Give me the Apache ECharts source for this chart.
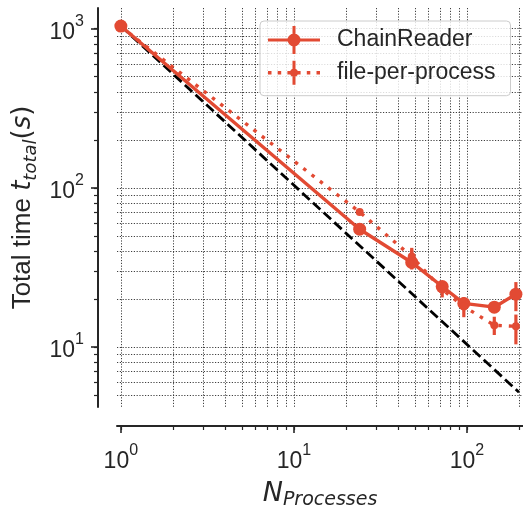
<!DOCTYPE html>
<html><head><meta charset="utf-8">
<script src="https://cdn.jsdelivr.net/npm/echarts@6/dist/echarts.min.js"></script>
<style>html,body{margin:0;padding:0;background:#fff}#c{width:523px;height:515px}</style>
</head><body><div id="c"></div>
<script>
// ---- data ----
const nProcesses = [1, 24, 48, 72, 96, 144, 192];
const chainReader = [1040, 55, 34, 24, 18.8, 17.8, 21.5];
const chainReaderLow = [1015, 53.5, 30.7, 23, 18, 17.2, 16.8];
const chainReaderHigh = [1065, 56.5, 41, 25, 19.6, 18.4, 25.6];
const filePerProcess = [1030, 70.5, 37, 23, 18, 13.7, 13.5];
const filePerProcessLow = [1005, 69, 32.5, 20.5, 15.4, 11.9, 10.4];
const filePerProcessHigh = [1055, 72, 42, 25.5, 20.6, 15.5, 16];
const idealN = [1, 200];
const idealTime = [1040, 5.2];
const xMajorTicks = [1, 10, 100];
const xMinorTicks = [2, 3, 4, 5, 6, 7, 8, 9, 20, 30, 40, 50, 60, 70, 80, 90, 200];
const yMajorTicks = [10, 100, 1000];
const yMinorTicks = [5, 6, 7, 8, 9, 20, 30, 40, 50, 60, 70, 80, 90, 200, 300, 400, 500, 600, 700, 800, 900];
const seriesNames = ['ChainReader', 'file-per-process'];

// ---- style ----
const RED = '#E24A33';
const INK = '#262626';
const SANS = "'Liberation Sans', Arial, sans-serif";
const MATH = "'DejaVu Sans', sans-serif";
const zip = (a, b) => a.map((v, i) => [v, b[i]]);
const zip3 = (a, b, c) => a.map((v, i) => [v, b[i], c[i]]);
const sortNum = a => a.slice().sort((p, q) => p - q);
const xAll = sortNum(xMajorTicks.concat(xMinorTicks));
const yAll = sortNum(yMajorTicks.concat(yMinorTicks));

const powFmt = v => '{b|10}{sup|' + Math.round(Math.log10(v)) + '}';
const powRich = {
  b: { fontSize: 23, fontFamily: SANS, color: INK, lineHeight: 30, verticalAlign: 'bottom' },
  sup: { fontSize: 16, fontFamily: SANS, color: INK, lineHeight: 4, verticalAlign: 'top' }
};
const gridLine = { show: true, lineStyle: { color: '#2a2a2a', width: 0.9, type: [1.2, 1.6] } };

const iconCR = 'path://M0 12.5H52V15.5H0Z M19.5 14A6.5 6.5 0 1 1 32.5 14A6.5 6.5 0 1 1 19.5 14Z M24.5 0H27.5V28H24.5Z';
const iconFPP = 'path://M0 12.25H3.5V15.75H0Z M9.7 12.25H13.2V15.75H9.7Z M19.4 12.25H22.9V15.75H19.4Z M29.1 12.25H32.6V15.75H29.1Z M38.8 12.25H42.3V15.75H38.8Z M48.5 12.25H52V15.75H48.5Z M22 14A4 4 0 1 1 30 14A4 4 0 1 1 22 14Z M24.5 2H27.5V26H24.5Z';

function errRender(params, api) {
  const p1 = api.coord([api.value(0), api.value(1)]);
  const p2 = api.coord([api.value(0), api.value(2)]);
  return { type: 'line', shape: { x1: p1[0], y1: p1[1], x2: p2[0], y2: p2[1] },
           style: { stroke: RED, lineWidth: 3.2 } };
}

const chart = echarts.init(document.getElementById('c'), null, { renderer: 'canvas' });
chart.setOption({
  animation: false,
  backgroundColor: '#fff',
  textStyle: { fontFamily: SANS, color: INK },
  grid: { left: 117, right: 0, top: 8, bottom: 102, containLabel: false },
  legend: {
    left: 260, top: 21, orient: 'vertical',
    padding: [5, 15, 9, 8], itemGap: 4.7, itemWidth: 52, itemHeight: 28,
    backgroundColor: 'rgba(255,255,255,0.82)', borderColor: '#cccccc', borderWidth: 1, borderRadius: 4,
    selectedMode: false,
    itemStyle: { borderWidth: 0 },
    textStyle: { fontSize: 23, fontFamily: SANS, color: INK, lineHeight: 28, padding: [0, 0, 0, 12] },
    data: [{ name: seriesNames[0], icon: iconCR }, { name: seriesNames[1], icon: iconFPP }]
  },
  xAxis: [
    {
      type: 'log', logBase: 10, min: 0.95, max: 211, position: 'bottom', offset: 19,
      axisLine: { show: true, lineStyle: { color: INK, width: 2 } },
      axisTick: { show: true, customValues: xMajorTicks, length: 7, lineStyle: { color: INK, width: 1.6 } },
      axisLabel: { show: true, customValues: xMajorTicks, margin: 17, formatter: powFmt, rich: powRich },
      splitLine: { show: false }, minorTick: { show: false }, minorSplitLine: { show: false },
      name: '{n|N}{sub|Processes}', nameLocation: 'middle', nameGap: 52, nameMoveOverlap: false,
      nameTextStyle: { rich: {
        n: { fontSize: 27, fontFamily: MATH, fontStyle: 'italic', color: INK, lineHeight: 32, verticalAlign: 'middle' },
        sub: { fontSize: 19, fontFamily: MATH, fontStyle: 'italic', color: INK, lineHeight: 18, verticalAlign: 'bottom' } } }
    },
    {
      type: 'log', logBase: 10, min: 0.95, max: 211, position: 'bottom', offset: 19,
      axisLine: { show: false },
      axisTick: { show: true, customValues: xAll, length: 4, lineStyle: { color: INK, width: 1.2 } },
      axisLabel: { show: false },
      splitLine: gridLine
    }
  ],
  yAxis: [
    {
      type: 'log', logBase: 10, min: 4.2, max: 1350, position: 'left', offset: 19,
      axisLine: { show: true, lineStyle: { color: INK, width: 2 } },
      axisTick: { show: true, customValues: yMajorTicks, length: 7, lineStyle: { color: INK, width: 1.6 } },
      axisLabel: { show: true, customValues: yMajorTicks, margin: 14, formatter: powFmt, rich: powRich },
      splitLine: { show: false }, minorTick: { show: false }, minorSplitLine: { show: false },
      name: '{a|Total time }{m|t}{sub|total}{p|(}{m|s}{p|)}', nameLocation: 'middle', nameGap: 58, nameRotate: 90,
      nameMoveOverlap: false,
      nameTextStyle: { rich: {
        a: { fontSize: 26, fontFamily: SANS, color: INK, lineHeight: 34, verticalAlign: 'middle' },
        m: { fontSize: 26, fontFamily: MATH, fontStyle: 'italic', color: INK, lineHeight: 34, verticalAlign: 'middle' },
        p: { fontSize: 26, fontFamily: MATH, color: INK, lineHeight: 34, verticalAlign: 'middle' },
        sub: { fontSize: 18, fontFamily: MATH, fontStyle: 'italic', color: INK, lineHeight: 20, verticalAlign: 'bottom' } } }
    },
    {
      type: 'log', logBase: 10, min: 4.2, max: 1350, position: 'left', offset: 19,
      axisLine: { show: false },
      axisTick: { show: true, customValues: yAll, length: 4, lineStyle: { color: INK, width: 1.2 } },
      axisLabel: { show: false },
      splitLine: gridLine
    }
  ],
  series: [
    {
      name: 'ideal', type: 'line', data: zip(idealN, idealTime), symbol: 'none', z: 3,
      lineStyle: { color: '#000', width: 2.8, type: [10, 4.5] }, silent: true
    },
    {
      name: 'cr-err', type: 'custom', data: zip3(nProcesses, chainReaderLow, chainReaderHigh),
      encode: { x: 0, y: [1, 2] }, renderItem: errRender, z: 4, silent: true
    },
    {
      name: seriesNames[0], type: 'line', data: zip(nProcesses, chainReader), z: 5,
      color: RED, symbol: 'circle', symbolSize: 13, showAllSymbol: true,
      itemStyle: { color: RED, borderWidth: 0 },
      lineStyle: { color: RED, width: 3.4 }, emphasis: { disabled: true }, silent: true
    },
    {
      name: 'fpp-err', type: 'custom', data: zip3(nProcesses, filePerProcessLow, filePerProcessHigh),
      encode: { x: 0, y: [1, 2] }, renderItem: errRender, z: 6, silent: true
    },
    {
      name: seriesNames[1], type: 'line', data: zip(nProcesses, filePerProcess), z: 7,
      color: RED, symbol: 'circle', symbolSize: 8, showAllSymbol: true,
      itemStyle: { color: RED, borderWidth: 0 },
      lineStyle: { color: RED, width: 3.4, type: [3.5, 7] }, emphasis: { disabled: true }, silent: true
    }
  ]
});
</script>
</body></html>
